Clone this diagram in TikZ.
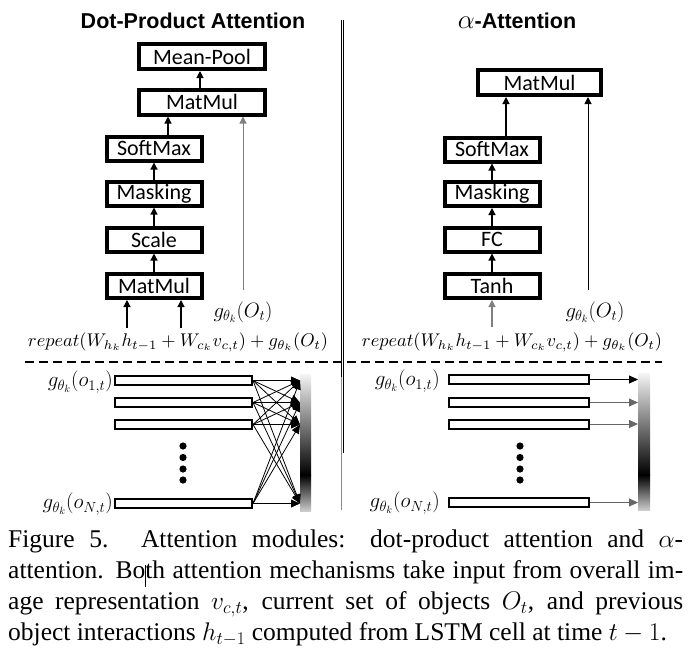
\RequirePackage{fix-cm}
\documentclass[tikz,border=0pt]{standalone}
\usepackage{graphicx}
\usepackage{fontspec}
\setmainfont{Liberation Serif}
\newfontfamily\boxfont{Carlito}
\newfontfamily\titlefont{Liberation Sans}
\usetikzlibrary{arrows.meta,calc}
\begin{document}
\begin{tikzpicture}[x=1pt,y=-1pt,
  box/.style={draw, line width=4pt, minimum width=95pt, minimum height=24pt, inner sep=0pt, outer sep=2pt, font=\boxfont\fontsize{22}{26}\selectfont},
  wbox/.style={box, minimum width=126pt, minimum height=25pt},
  arr/.style={-{Triangle[length=7pt,width=7pt]}, line width=1.2pt},
  longarr/.style={-{Triangle[length=7pt,width=7pt]}, line width=1pt},
  grayline/.style={draw=black!50},
  titlestyle/.style={inner sep=0pt, font=\titlefont\bfseries\fontsize{21.5}{25}\selectfont},
  mathlbl/.style={inner sep=0pt, font=\fontsize{21}{25}\selectfont},
  barL/.style={draw, line width=2pt, minimum width=137pt, minimum height=9pt, inner sep=0pt, outer sep=1pt},
  barR/.style={barL, minimum width=140pt},
  tip/.style={-{Triangle[length=9pt,width=8pt]}, line width=0.8pt},
  dotstyle/.style={fill=black}
]
\useasboundingbox (0,0) rectangle (696,659);

% ---------- left panel ----------
\node[titlestyle] (tL) at (193,21) {Dot-Product Attention};
\node[wbox] (mp) at (202,56.5) {Mean-Pool};
\node[wbox] (mm1) at (202,102) {MatMul};
\node[box] (sm1) at (154,148.5) {SoftMax};
\node[box] (mk1) at (154,193.5) {Masking};
\node[box] (sc1) at (154,239.5) {Scale};
\node[box] (mm2) at (154,286) {MatMul};

\draw[arr] ([xshift=-2pt]mm1.north) -- ([xshift=-2pt]mm1.north |- mp.south);
\draw[arr] ([xshift=14pt]sm1.north) -- ([xshift=14pt]sm1.north |- mm1.south);
\draw[arr] (mk1.north) -- (sm1.south);
\draw[arr] (sc1.north) -- (mk1.south);
\draw[arr] (mm2.north) -- (sc1.south);
\coordinate (inA) at (127,328);
\coordinate (inB) at (181,328);
\draw[arr] (inA) -- (inA |- mm2.south);
\draw[arr] (inB) -- (inB |- mm2.south);
\coordinate (gL) at (243,290);
\draw[longarr, grayline] (gL) -- (gL |- mm1.south);
\node[mathlbl] (gOL) at (243,312) {\resizebox{59pt}{!}{$g_{\theta_k}(O_t)$}};
\node[inner sep=0pt] (fL) at (178,342) {\resizebox{300pt}{!}{$repeat(W_{h_k}h_{t-1}+W_{c_k}v_{c,t})+g_{\theta_k}(O_t)$}};

% ---------- right panel ----------
\node[titlestyle] (tR) at (517,21) {\scalebox{1.25}{$\alpha$}-Attention};
\node[box, minimum width=123pt, minimum height=25pt] (mm3) at (539.5,82.5) {MatMul};
\node[box] (sm2) at (492,149.5) {SoftMax};
\node[box] (mk2) at (492,194) {Masking};
\node[box] (fc) at (492,239.5) {FC};
\node[box] (th) at (492,286) {Tanh};

\draw[arr] ([xshift=14pt]sm2.north) -- ([xshift=14pt]sm2.north |- mm3.south);
\draw[arr] (mk2.north) -- (sm2.south);
\draw[arr] (fc.north) -- (mk2.south);
\draw[arr] (th.north) -- (fc.south);
\coordinate (inC) at (492,327);
\draw[arr, grayline] (inC) -- (inC |- th.south);
\coordinate (gR) at (588,290);
\draw[longarr] (gR) -- (gR |- mm3.south);
\node[mathlbl] (gOR) at (595,312) {\resizebox{59pt}{!}{$g_{\theta_k}(O_t)$}};
\node[inner sep=0pt] (fR) at (512,342) {\resizebox{300pt}{!}{$repeat(W_{h_k}h_{t-1}+W_{c_k}v_{c,t})+g_{\theta_k}(O_t)$}};

% ---------- separators ----------
\draw[line width=2pt, dash pattern=on 9pt off 5pt] (25,362) -- (662,362);
\draw[line width=1pt] (341.2,20) -- (341.2,377);
\draw[line width=1pt, black!45] (341.2,377) -- (341.2,510);
\draw[line width=1pt] (343.8,20) -- (343.8,453);

% ---------- bottom left ----------
\node[barL] (a1) at (183.5,380.5) {};
\node[barL] (a2) at (183.5,402.5) {};
\node[barL] (a3) at (183.5,424.5) {};
\node[barL] (aN) at (183.5,503.5) {};
\node[mathlbl, anchor=east] (la1) at ([xshift=-1pt,yshift=-1.5pt]a1.west) {$g_{\theta_k}(o_{1,t})$};
\node[mathlbl, anchor=east] (laN) at ([xshift=-1pt,yshift=-0.5pt]aN.west) {$g_{\theta_k}(o_{N,t})$};
\foreach \yy in {446,457.5,469,480} \fill[dotstyle] (183,\yy) circle (3.6);
\shade[top color=black!4, bottom color=black] (300,374) rectangle (311,475);
\shade[top color=black, bottom color=black!20] (300,475) rectangle (311,511);
\node[minimum width=11pt, minimum height=137pt, inner sep=0pt, outer sep=0pt] (gradL) at (305.5,442.5) {};
\foreach \s in {a1,a2,a3,aN}
  \foreach \t in {a1,a2,a3,aN}
    \draw[tip] (\s.east) -- (gradL.west |- \t);

% ---------- bottom right ----------
\node[barR] (b1) at (519,379.5) {};
\node[barR] (b2) at (519,402.5) {};
\node[barR] (b3) at (519,424) {};
\node[barR] (bN) at (519,502.5) {};
\node[mathlbl, anchor=east] (lb1) at ([xshift=-8pt,yshift=-1.5pt]b1.west) {$g_{\theta_k}(o_{1,t})$};
\node[mathlbl, anchor=east] (lbN) at ([xshift=-8pt,yshift=-0.5pt]bN.west) {$g_{\theta_k}(o_{N,t})$};
\foreach \yy in {446,457.5,469,480} \fill[dotstyle] (520,\yy) circle (3.6);
\shade[top color=black!4, bottom color=black] (638,373) rectangle (650,475);
\shade[top color=black, bottom color=black!20] (638,475) rectangle (650,510);
\node[minimum width=12pt, minimum height=137pt, inner sep=0pt, outer sep=0pt] (gradR) at (644,441.5) {};
\draw[tip] (b1.east) -- (gradR.west |- b1);
\draw[tip, draw=black!60] (b2.east) -- (gradR.west |- b2);
\draw[tip, draw=black!60] (b3.east) -- (gradR.west |- b3);
\draw[tip, draw=black!60] (bN.east) -- (gradR.west |- bN);

% ---------- caption ----------
\node[anchor=base west, inner sep=0pt, text width=675pt, align=justify,
      font=\fontsize{25.5}{31.3}\selectfont] (cap) at (8,547)
{\hyphenpenalty=10000\exhyphenpenalty=10000
Figure 5.\hskip 0.9em plus 0.15em Attention modules: dot-product attention and $\alpha$-\linebreak
attention. Both attention mechanisms take input from overall im-\linebreak
age representation $v_{c,t}$, current set of objects $O_t$, and previous\linebreak
object interactions $h_{t-1}$ computed from LSTM cell at time $t-1$.};
\draw[line width=0.8pt] (145,565) -- (145,587);
\end{tikzpicture}
\end{document}
